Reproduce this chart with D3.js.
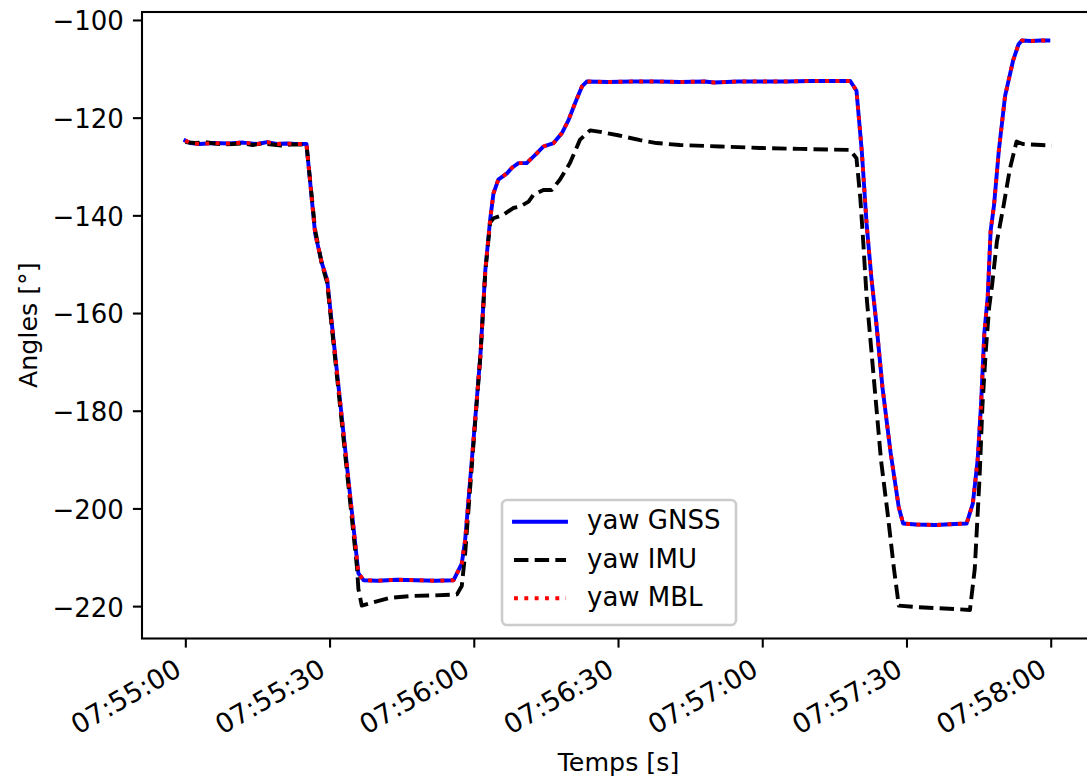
<!DOCTYPE html>
<html>
<head>
<meta charset="utf-8">
<script src="https://cdn.jsdelivr.net/npm/d3@7"></script>
<style>
  html, body { margin: 0; padding: 0; background: #fff; }
  svg { display: block; }
  svg text { font-family: "DejaVu Sans", sans-serif; }
</style>
</head>
<body>
<div id="chart"></div>
<script>
// Yaw angle comparison: GNSS, IMU and MBL, seconds after 07:55:00
const gnssSeconds = [0, 1, 3, 6, 9, 12, 15, 17, 19, 21, 23, 25.2, 27.0, 28.4, 29.5, 36.0, 37.1, 40, 44, 48, 52, 55.8,
  57.5, 58.2, 60.0, 61.4, 62.4, 63.4, 64.1, 65.1, 66.9, 68.0, 69.3, 71.0, 73.1, 74.5, 76.6, 78.3, 79.7, 81.0, 82.5, 83.5,
  88, 93, 98, 103, 108, 110, 115, 120, 125, 130, 135, 138.3, 139.6, 140.7, 141.7, 142.7, 143.7, 145.0, 146.7, 148.4,
  149.3, 152, 156, 160, 162.5, 163.8, 164.8, 165.5, 166.2, 166.9, 167.5, 168.2, 169.2, 170.5, 172.2, 173.3, 174.0,
  176, 178, 179.5];
const yawGnss = [-124.7, -125.2, -125.4, -125.2, -125.3, -125.1, -125.4, -125.0, -125.4, -125.3, -125.4, -125.4, -143.7,
  -149.8, -153.2, -213.3, -214.7, -214.8, -214.6, -214.7, -214.8, -214.7,
  -211.3, -206.5, -185.3, -168.3, -151.2, -140.9, -135.5, -132.7, -131.4, -130.2, -129.3, -129.3, -127.3, -125.9, -125.2,
  -123.2, -120.5, -117.2, -113.6, -112.6,
  -112.7, -112.6, -112.6, -112.7, -112.6, -112.8, -112.6, -112.6, -112.6, -112.5, -112.5, -112.5, -114.5, -126.8, -141.7,
  -152.8, -161.8, -175.2, -188.6, -199.8,
  -203.1, -203.3, -203.4, -203.2, -203.1, -199.0, -190.1, -178.9, -164.0, -156.6, -143.2, -138.0, -126.8, -115.6, -108.2,
  -105.0, -104.2, -104.3, -104.2, -104.2];
// MBL solution follows the GNSS heading sample for sample
const yawMbl = yawGnss.slice();

const imuSeconds = [0, 2, 4, 6, 8, 10, 12, 14, 16, 18, 20, 22, 25.2, 27.0, 28.4, 29.5, 35.7, 36.0, 36.7, 38.8, 42.6, 47.5,
  52, 56.5, 57.5, 58.2, 60.0, 61.4, 62.4, 63.4, 64.1, 66.1, 68.2, 69.6, 71.4, 72.4, 74.5, 76.2, 77.9, 80.0, 82.1, 84.2,
  86.3, 90, 94.6, 98, 102.9, 111.2, 119.5, 127.9, 138.2, 139.6, 140.4, 141.0, 141.7, 142.7, 143.7, 144.7, 146.1, 147.4,
  148.4, 152, 156, 160, 163.2, 164.2, 165.2, 165.8, 166.5, 167.2, 167.8, 168.8, 170.2, 171.5, 172.9, 174.2, 176, 178, 180.2];
const yawImu = [-125.0, -125.2, -125.0, -125.3, -125.5, -125.4, -125.3, -125.6, -125.3, -125.5, -125.7, -125.5, -125.5,
  -143.0, -150.0, -153.8, -212.0, -216.5, -219.9, -219.3, -218.3, -217.9,
  -217.8, -217.6, -215.9, -209.3, -186.0, -168.5, -151.5, -141.5, -140.6, -139.9, -138.5, -138.2, -137.2, -135.8, -134.8,
  -134.8, -132.7, -129.3, -124.5, -122.6,
  -122.9, -123.6, -124.6, -125.2, -125.6, -125.9, -126.2, -126.4, -126.6, -128.3, -136.5, -145.4, -156.6, -167.7, -178.9,
  -190.1, -201.2, -212.4,
  -219.9, -220.2, -220.4, -220.6, -220.8, -212.4, -193.7, -178.9, -167.7, -158.8, -154.3, -145.4, -138.0, -130.5, -124.9,
  -125.4, -125.5, -125.6, -125.7];

const yTicks = [-220, -200, -180, -160, -140, -120, -100];
const seriesNames = ["yaw GNSS", "yaw IMU", "yaw MBL"];

const W = 1087, H = 779;
const pt = 2.6;                // px per point
const fontPx = 26;
const xTickFontPx = 27;
const lw = 1.5 * pt;
const font = "DejaVu Sans, sans-serif";
const margin = { left: 142, right: 1095, top: 12, bottom: 638.5 };

const t0 = new Date(2000, 0, 1, 7, 55, 0);
const toDate = s => new Date(t0.getTime() + s * 1000);

const gnss = gnssSeconds.map((s, i) => ({ t: toDate(s), v: yawGnss[i] }));
const imu = imuSeconds.map((s, i) => ({ t: toDate(s), v: yawImu[i] }));
const mbl = gnssSeconds.map((s, i) => ({ t: toDate(s), v: yawMbl[i] }));
const all = gnss.concat(imu, mbl);

// 5 % padding on both axes
const [tMin, tMax] = d3.extent(all, d => d.t.getTime());
const [vMin, vMax] = d3.extent(all, d => d.v);
const tPad = (tMax - tMin) * 0.05, vPad = (vMax - vMin) * 0.05;

const x = d3.scaleTime()
  .domain([new Date(tMin - tPad), new Date(tMax + tPad)])
  .range([margin.left, margin.right]);
const y = d3.scaleLinear()
  .domain([vMin - vPad, vMax + vPad])
  .range([margin.bottom, margin.top]);

const svg = d3.select("#chart").append("svg")
  .attr("width", W).attr("height", H)
  .attr("font-family", font);

svg.append("defs").append("clipPath").attr("id", "plotArea")
  .append("rect")
  .attr("x", margin.left).attr("y", margin.top)
  .attr("width", margin.right - margin.left)
  .attr("height", margin.bottom - margin.top);

const line = d3.line().x(d => x(d.t)).y(d => y(d.v));
const plot = svg.append("g").attr("clip-path", "url(#plotArea)");

const styles = [
  { data: gnss, color: "#0000ff", dash: null, cap: "square" },
  { data: imu, color: "#000000", dash: `${3.7 * lw},${1.6 * lw}`, cap: "butt" },
  { data: mbl, color: "#ff0000", dash: `${1 * lw},${1.65 * lw}`, cap: "butt" }
];

styles.forEach(s => {
  plot.append("path")
    .datum(s.data)
    .attr("d", line)
    .attr("fill", "none")
    .attr("stroke", s.color)
    .attr("stroke-width", lw)
    .attr("stroke-linejoin", "round")
    .attr("stroke-linecap", s.cap)
    .attr("stroke-dasharray", s.dash);
});

// Axes
const tickLen = 3.5 * pt, tickPad = 3.5 * pt;
const fmtTime = d3.timeFormat("%H:%M:%S");
const xAxis = d3.axisBottom(x)
  .ticks(d3.timeSecond.every(30))
  .tickSize(tickLen).tickPadding(tickPad)
  .tickFormat(fmtTime);
const gx = svg.append("g").attr("transform", `translate(0,${margin.bottom})`).call(xAxis)
  .attr("font-family", font).attr("font-size", xTickFontPx);
gx.select(".domain").remove();
gx.selectAll(".tick line").attr("stroke", "#000").attr("stroke-width", 0.8 * pt);
// rotated labels: top-right corner of the rotated box sits under the tick
const labelTop = tickLen + tickPad;
gx.selectAll(".tick text")
  .attr("font-family", font)
  .attr("font-size", xTickFontPx)
  .attr("fill", "#000")
  .attr("text-anchor", "end")
  .attr("dy", null)
  .attr("y", null)
  .attr("transform", `translate(${-0.104 * xTickFontPx},${labelTop + 0.658 * xTickFontPx}) rotate(-30)`);

const yAxis = d3.axisLeft(y)
  .tickValues(yTicks)
  .tickSize(tickLen).tickPadding(tickPad);
const gy = svg.append("g").attr("transform", `translate(${margin.left},0)`).call(yAxis)
  .attr("font-family", font).attr("font-size", fontPx);
gy.select(".domain").remove();
gy.selectAll(".tick line").attr("stroke", "#000").attr("stroke-width", 0.8 * pt);
gy.selectAll(".tick text")
  .attr("font-family", font)
  .attr("font-size", fontPx)
  .attr("fill", "#000")
  .attr("dy", "0.38em");

// Frame
svg.append("rect")
  .attr("x", margin.left).attr("y", margin.top)
  .attr("width", margin.right - margin.left)
  .attr("height", margin.bottom - margin.top)
  .attr("fill", "none")
  .attr("stroke", "#000")
  .attr("stroke-width", 0.8 * pt);

// Axis titles
svg.append("text")
  .attr("x", (margin.left + margin.right) / 2)
  .attr("y", 770.5)
  .attr("text-anchor", "middle")
  .attr("font-size", 25.3)
  .text("Temps [s]");

svg.append("text")
  .attr("transform", `translate(37,${(margin.top + margin.bottom) / 2}) rotate(-90)`)
  .attr("text-anchor", "middle")
  .attr("font-size", 25.3)
  .text("Angles [°]");

// Legend
const legend = svg.append("g");
legend.append("rect")
  .attr("x", 502).attr("y", 500)
  .attr("width", 234).attr("height", 125)
  .attr("rx", 5).attr("ry", 5)
  .attr("fill", "rgba(255,255,255,0.8)")
  .attr("stroke", "#cccccc")
  .attr("stroke-width", 1 * pt);

const rowY = [521.7, 560, 598.3];
styles.forEach((s, i) => {
  legend.append("line")
    .attr("x1", 514).attr("x2", 566)
    .attr("y1", rowY[i]).attr("y2", rowY[i])
    .attr("stroke", s.color)
    .attr("stroke-width", lw)
    .attr("stroke-linecap", s.cap)
    .attr("stroke-dasharray", s.dash);
  legend.append("text")
    .attr("x", 587)
    .attr("y", rowY[i] + 7.5)
    .attr("font-size", fontPx)
    .text(seriesNames[i]);
});
</script>
</body>
</html>
